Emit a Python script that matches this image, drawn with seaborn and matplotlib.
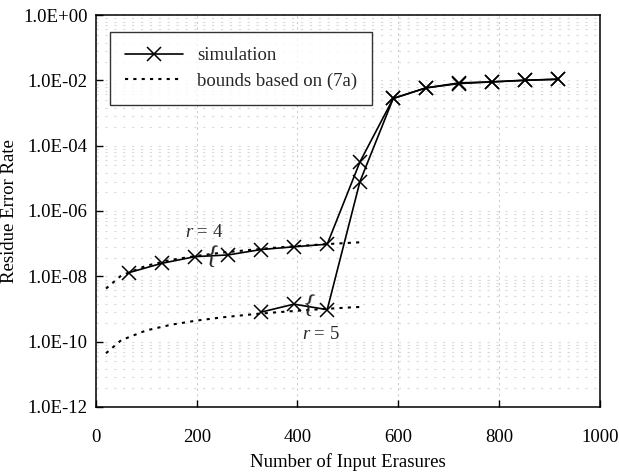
import numpy as np
import matplotlib
matplotlib.use("Agg")
import matplotlib.pyplot as plt
from matplotlib.ticker import FixedLocator, FuncFormatter, NullFormatter
import seaborn as sns

# ------------------------------------------------------------------
# Data
# ------------------------------------------------------------------
sim_r4_x = [66, 131, 197, 262, 328, 393, 459, 524, 590, 655, 721, 786, 852, 917]
sim_r4_y = [1.3e-8, 2.5e-8, 4.0e-8, 4.5e-8, 6.6e-8, 8.0e-8, 9.6e-8,
            3.2e-5, 2.8e-3, 5.9e-3, 8.0e-3, 9.0e-3, 1.02e-2, 1.07e-2]

sim_r5_x = [328, 393, 459, 524, 590, 655, 721, 786, 852, 917]
sim_r5_y = [8.0e-10, 1.4e-9, 9.5e-10, 8.0e-6, 2.8e-3, 5.9e-3,
            8.4e-3, 9.0e-3, 1.0e-2, 1.1e-2]

bound_x = [20, 50, 100, 150, 200, 250, 300, 350, 400, 450, 500, 525]
bound_r4_y = [4.2e-9, 1.05e-8, 2.1e-8, 3.2e-8, 4.2e-8, 5.3e-8,
              6.3e-8, 7.4e-8, 8.4e-8, 9.5e-8, 1.05e-7, 1.1e-7]
bound_r5_y = [4.4e-11, 1.1e-10, 2.2e-10, 3.3e-10, 4.4e-10, 5.5e-10,
              6.6e-10, 7.7e-10, 8.8e-10, 9.9e-10, 1.1e-9, 1.15e-9]

x_ticks = [0, 200, 400, 600, 800, 1000]
y_ticks = [1e-12, 1e-10, 1e-8, 1e-6, 1e-4, 1e-2, 1e0]

# ------------------------------------------------------------------
# Styling
# ------------------------------------------------------------------
sns.set_theme(style="white")
plt.rcParams["font.family"] = ["Liberation Serif", "DejaVu Serif"]
plt.rcParams["mathtext.fontset"] = "custom"
plt.rcParams["mathtext.it"] = "Liberation Serif:italic"
plt.rcParams["mathtext.rm"] = "Liberation Serif"
FS = 13.5

fig, ax = plt.subplots(figsize=(6.19, 4.72), dpi=100)
fig.subplots_adjust(left=0.155, right=0.969, top=0.968, bottom=0.138)

# seaborn paints marker edges white by default, so force black for the "x"
sim_kw = dict(color="black", marker="x", markersize=10, markeredgewidth=1.1,
              markeredgecolor="black", linewidth=1.2, sort=False, estimator=None)
bound_kw = dict(color="black", linewidth=1.5, linestyle=(0, (1.5, 2.5)),
                sort=False, estimator=None)

sns.lineplot(x=sim_r4_x, y=sim_r4_y, ax=ax, label="simulation", **sim_kw)
sns.lineplot(x=sim_r5_x, y=sim_r5_y, ax=ax, **sim_kw)
sns.lineplot(x=bound_x, y=bound_r4_y, ax=ax, label="bounds based on (7a)", **bound_kw)
sns.lineplot(x=bound_x, y=bound_r5_y, ax=ax, **bound_kw)

ax.set_yscale("log")
ax.set_xlim(0, 1000)
ax.set_ylim(1e-12, 1)
ax.xaxis.set_major_locator(FixedLocator(x_ticks))
ax.yaxis.set_major_locator(FixedLocator(y_ticks))
ax.yaxis.set_major_formatter(FuncFormatter(lambda v, p: f"{v:.1E}"))

# faint minor grid below every major decade line
offsets = [-0.1, -0.2, -0.31, -0.43, -0.6, -0.84, -1.1, -1.43]
minor = [10 ** (np.log10(t) + o) for t in y_ticks[1:] for o in offsets]
ax.yaxis.set_minor_locator(FixedLocator(minor))
ax.yaxis.set_minor_formatter(NullFormatter())

ax.grid(which="major", axis="x", color="#cccccc", linewidth=0.8, linestyle=(0, (2, 3)))
ax.grid(which="both", axis="y", color="#dadada", linewidth=0.8, linestyle=(0, (2, 6)))

ax.tick_params(axis="both", which="major", direction="in", length=5, width=1,
               labelsize=FS, left=True, bottom=True, colors="black")
ax.tick_params(axis="x", pad=16)
ax.tick_params(axis="y", pad=6)
ax.tick_params(which="minor", length=0)

for s in ax.spines.values():
    s.set_color("black")
    s.set_linewidth(1.1)

ax.set_xlabel("Number of Input Erasures", fontsize=FS, labelpad=5, color="black")
ax.set_ylabel("Residue Error Rate", fontsize=FS, labelpad=4, color="black")

# annotations for the two families of curves
ax.text(215, 2.2e-7, "$r$ = 4", fontsize=FS, ha="center", va="center")
ax.text(446, 1.6e-10, "$r$ = 5", fontsize=FS, ha="center", va="center")
ax.text(229, 4.3e-8, "{", fontsize=19, ha="center", va="center", rotation=-10,
        fontweight="light")
ax.text(422, 1.4e-9, "{", fontsize=19, ha="center", va="center", rotation=-10,
        fontweight="light")

leg = ax.legend(loc="upper left", bbox_to_anchor=(0.028, 0.957), borderaxespad=0,
                fontsize=FS, frameon=True, fancybox=False, edgecolor="black",
                handlelength=3.1, handletextpad=0.75, borderpad=0.8,
                labelspacing=0.45)
leg.get_frame().set_linewidth(1.0)

fig.savefig("out.png", dpi=100)
